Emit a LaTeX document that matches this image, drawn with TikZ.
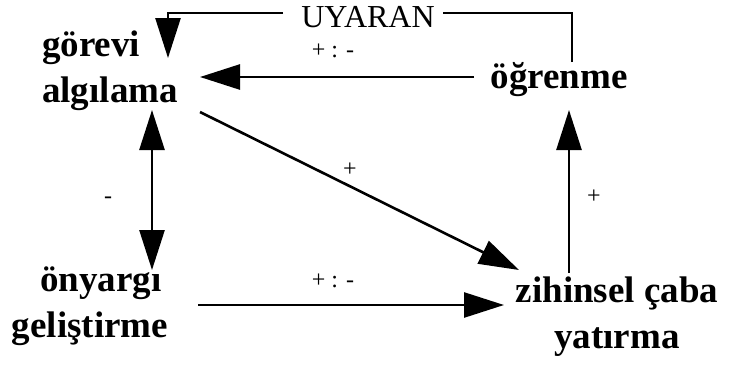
\documentclass[tikz,border=0pt]{standalone}
\usepackage{fontspec}
\setmainfont{Liberation Serif}
\usetikzlibrary{arrows.meta}
\begin{document}
\begin{tikzpicture}[x=1pt,y=-1pt,
  concept/.style={inner sep=0pt,font=\fontsize{37}{46}\selectfont\bfseries},
  sign/.style={inner sep=0pt,font=\fontsize{24}{28}\selectfont},
  tip/.style={Triangle[length=40pt,width=25pt]},
  link/.style={line width=2.6pt,-{Triangle[length=40pt,width=25pt]}},
  plain/.style={line width=2.6pt}]
\useasboundingbox (0,0) rectangle (732,365);
% concepts
\node[concept,anchor=base west,align=left] (gor) at (42,102.5) {görevi\\algılama};
\node[concept,anchor=base] (ogr) at (559,88) {öğrenme};
\node[concept,anchor=base,align=center] (ony) at (90,337) {\hspace*{22pt}önyargı\\geliştirme};
\node[concept,anchor=base,align=center] (zih) at (617,348) {zihinsel çaba\\yatırma};
\node[inner sep=0pt,font=\fontsize{32}{36}\selectfont,anchor=base] (uya) at (368,27) {UYARAN};
% signs
\node[sign] (s1) at (333,51) {+ : -};
\node[sign] (s2) at (333,281) {+ : -};
\node[sign] (s3) at (350,170) {+};
\node[sign] (s4) at (108,200) {-};
\node[sign] (s5) at (594,197) {+};
% helper coordinates
\coordinate (ogrTop) at (572,62);
\coordinate (uyaR) at ([xshift=8pt]uya.east |- 0,13);
\coordinate (uyaL) at ([xshift=-18pt]uya.west |- 0,13);
\coordinate (gorTop) at (168,58);
\coordinate (ogrLeft) at (474,77);
\coordinate (gorRight) at (200,77);
\coordinate (gorBot) at (152,110);
\coordinate (onyTop) at (152,270);
\coordinate (gorDiag) at (200,112);
\coordinate (zihDiag) at (519,270);
\coordinate (onyRight) at (198,305);
\coordinate (zihLeft) at (504,305);
\coordinate (zihTop) at (569,273);
\coordinate (ogrBot) at (569,110);
% connectors
\draw[plain] (ogrTop) |- (uyaR);
\draw[link] (uyaL) -| (gorTop);
\draw[link] (ogrLeft) -- (gorRight);
\draw[line width=2.6pt,{Triangle[length=40pt,width=25pt]}-{Triangle[length=40pt,width=25pt]}] (gorBot) -- (onyTop);
\draw[link] (gorDiag) -- (zihDiag);
\draw[link] (onyRight) -- (zihLeft);
\draw[link] (zihTop) -- (ogrBot);
\end{tikzpicture}
\end{document}
